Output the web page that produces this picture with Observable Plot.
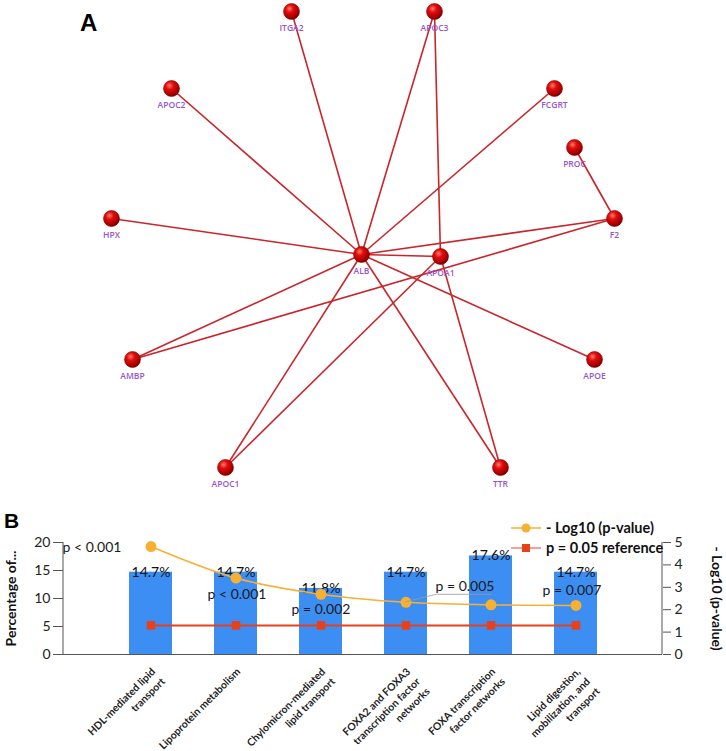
<!DOCTYPE html>
<html><head><meta charset="utf-8">
<script src="https://cdn.jsdelivr.net/npm/d3@7"></script>
<script src="https://cdn.jsdelivr.net/npm/@observablehq/plot@0.6"></script>
<style>
body{margin:0;background:#fff;}
#wrap{position:relative;width:726px;height:751px;overflow:hidden;font-family:Lato, sans-serif;}
#wrap > svg, #wrap > div{position:absolute;}
</style></head><body><div id="wrap"></div>
<script>
// ---------- Panel A: network ----------
const nodeNames = ["ITGA2","APOC3","APOC2","FCGRT","PROC","HPX","F2","ALB","APOA1","AMBP","APOE","APOC1","TTR"];
const nodeX = [291,434,171,554,574,111,614,361,440,132,594,225,500];
const nodeY = [11,11,88,88,147,218,218,254,256,359,359,467,467];
const edgeSource = ["ALB","ALB","APOA1","ALB","ALB","PROC","ALB","ALB","AMBP","AMBP","ALB","ALB","ALB","APOA1","APOC1","APOC1"];
const edgeTarget = ["ITGA2","APOC3","APOC3","APOC2","FCGRT","F2","HPX","F2","ALB","F2","APOA1","APOE","TTR","TTR","ALB","APOA1"];

// ---------- Panel B: enrichment ----------
const categories = ["HDL","Lipoprotein","Chylomicron","FOXA2FOXA3","FOXA","Lipid"];
const categoryLabels = [
  "HDL-mediated lipid\ntransport",
  "Lipoprotein metabolism",
  "Chylomicron-mediated\nlipid transport",
  "FOXA2 and FOXA3\ntranscription factor\nnetworks",
  "FOXA transcription\nfactor networks",
  "Lipid digestion,\nmobilization, and\ntransport"
];
const percentValues = [14.7,14.7,11.8,14.7,17.6,14.7];
const logPValues = [4.82,3.41,2.69,2.33,2.22,2.19];
const refValue = 1.3;
const pLabels = ["p < 0.001","p < 0.001","p = 0.002","p = 0.005","","p = 0.007"];
const rightAxisTicks = [0,1,2,3,4,5];
const leftAxisTicks = [0,5,10,15,20];

// layout (not data)
const ratio = 4; // right-axis units -> left-axis units
const pLabelDx = [-59, 1, 0, 59, 0, -4];
const pLabelDy = [1, 16, 15, -16, 0, -15];

const wrap = document.getElementById("wrap");

const nodes = nodeNames.map((n,i)=>({name:n, x:nodeX[i], y:nodeY[i]}));
const byName = new Map(nodes.map(d=>[d.name,d]));
const edges = edgeSource.map((s,i)=>({s:byName.get(s), t:byName.get(edgeTarget[i])}));

const A = Plot.plot({
  width:726, height:495, margin:0,
  style:{background:"transparent", fontFamily:"Open Sans"},
  x:{domain:[0,726], range:[0,726], axis:null},
  y:{domain:[0,495], range:[0,495], axis:null},
  marks:[
    Plot.link(edges,{x1:d=>d.s.x, y1:d=>d.s.y, x2:d=>d.t.x, y2:d=>d.t.y, stroke:"#c9252c", strokeWidth:1.6}),
    Plot.dot(nodes,{x:"x", y:"y", r:8, fill:"url(#ball)", stroke:"#900000", strokeWidth:0.6}),
    Plot.text(nodes,{x:"x", y:"y", text:"name", dy:17, fill:"#9556cc", fontSize:8.5, fontWeight:600, fontFamily:"Open Sans"})
  ]
});
A.insertAdjacentHTML("afterbegin",
 '<defs><radialGradient id="ball" cx="38%" cy="32%" r="70%"><stop offset="0%" stop-color="#ff7a6a"/><stop offset="35%" stop-color="#e00d0d"/><stop offset="80%" stop-color="#a80000"/><stop offset="100%" stop-color="#6a0000"/></radialGradient></defs>');
A.style.left="0px"; A.style.top="0px";
wrap.appendChild(A);

const rows = categories.map((c,i)=>({cat:c, label:categoryLabels[i], pct:percentValues[i], lp:logPValues[i], ref:refValue, pl:pLabels[i], i}));

const pLabelMarks = rows.filter(d=>d.pl).map(d=>Plot.text([d],{
  x:"cat", y:r=>r.lp*ratio, text:"pl", dx:pLabelDx[d.i], dy:pLabelDy[d.i], fontSize:14, fill:"#1a1a1a"
}));

const B = Plot.plot({
  width:726, height:256, marginTop:47, marginBottom:97, marginLeft:63, marginRight:64,
  style:{background:"transparent", fontFamily:"Lato", fontSize:"14px", color:"#222", overflow:"visible"},
  x:{domain:categories, type:"band", paddingInner:0.5, paddingOuter:0.75, axis:null},
  y:{domain:[0,20], axis:null},
  marks:[
    Plot.barY(rows,{x:"cat", y:"pct", fill:"#3c8ef2"}),
    Plot.ruleY([0],{stroke:"#555"}),
    Plot.axisY({anchor:"left", ticks:leftAxisTicks, tickSize:10, tickPadding:3, fontSize:14, label:null, stroke:"#555", fill:"#222"}),
    Plot.axisY({anchor:"right", ticks:rightAxisTicks.map(v=>v*ratio), tickFormat:d=>d/ratio, tickSize:8, tickPadding:4, fontSize:14, label:null, stroke:"#555", fill:"#222"}),
    Plot.text(rows,{x:"cat", y:"pct", text:d=>d.pct.toFixed(1)+"%", fontSize:14, fill:"#111"}),
    ...pLabelMarks,
    Plot.line(rows,{x:"cat", y:d=>d.ref*ratio, stroke:"#e8401a", strokeWidth:2}),
    Plot.dot(rows,{x:"cat", y:d=>d.ref*ratio, symbol:"square", r:4.8, fill:"#e8401a"}),
    Plot.line(rows,{x:"cat", y:d=>d.lp*ratio, stroke:"#f8b032", strokeWidth:1.6, curve:"catmull-rom"}),
    Plot.dot(rows,{x:"cat", y:d=>d.lp*ratio, r:5.5, fill:"#f8b032"}),
    Plot.text(rows,{x:"cat", y:0, text:"label", rotate:-45, textAnchor:"end", lineAnchor:"top", dx:-2, dy:11, fontSize:10.4, fontWeight:"bold", lineHeight:1.33, fill:"#222"}),
    Plot.text(["Percentage of..."],{text:d=>d, frameAnchor:"left", textAnchor:"middle", dx:-52, rotate:-90, fontWeight:"bold", fontSize:14, fill:"#111"}),
    Plot.text(["- Log10 (p-value)"],{text:d=>d, frameAnchor:"right", textAnchor:"middle", dx:54, rotate:90, fontWeight:"bold", fontSize:14, fill:"#111"})
  ]
});
B.style.left="0px"; B.style.top="495px";
wrap.appendChild(B);

// axis lines and leader line
const sB = d3.select(B);
const fLeft = 63, fRight = 726-64, fTop = 47, fBottom = 256-97;
sB.append("line").attr("x1",fLeft).attr("x2",fLeft).attr("y1",fTop).attr("y2",fBottom).attr("stroke","#555");
sB.append("line").attr("x1",fRight).attr("x2",fRight).attr("y1",fTop).attr("y2",fBottom).attr("stroke","#555");
const xs = B.scale("x"), ys = B.scale("y");
const xb = d3.scaleBand(xs.domain, xs.range).paddingInner(xs.paddingInner ?? 0.5).paddingOuter(xs.paddingOuter ?? 0.75).align(xs.align ?? 0.5);
const yl = d3.scaleLinear(ys.domain, ys.range);
const lead = rows[3];
const px = xb(lead.cat) + xb.bandwidth()/2, py = yl(lead.lp*ratio);
sB.append("path").attr("d",`M${px},${py}L${px+31},${py-7.5}L${px+86},${py-7.5}`).attr("fill","none").attr("stroke","#9a9a9a").attr("stroke-width",0.8);

// legend
const leg = `<svg width="726" height="751" style="left:0;top:0;pointer-events:none" xmlns="http://www.w3.org/2000/svg">
 <g font-family="Lato" font-weight="bold" font-size="14.5" fill="#111">
  <line x1="511" x2="541" y1="528" y2="528" stroke="#f8b032" stroke-width="1.5"/>
  <circle cx="526" cy="528" r="4.5" fill="#f8b032"/>
  <text x="546" y="533">- Log10 (p-value)</text>
  <line x1="511" x2="541" y1="548" y2="548" stroke="#f08070" stroke-width="1.5"/>
  <rect x="522" y="544" width="8" height="8" fill="#e8401a"/>
  <text x="546" y="553">p = 0.05 reference</text>
 </g>
 <g font-family="Liberation Sans" font-weight="bold" fill="#000">
  <text x="80" y="31" font-size="24">A</text>
  <text x="4" y="528" font-size="21">B</text>
 </g>
</svg>`;
wrap.insertAdjacentHTML("beforeend", leg);
</script></body></html>
